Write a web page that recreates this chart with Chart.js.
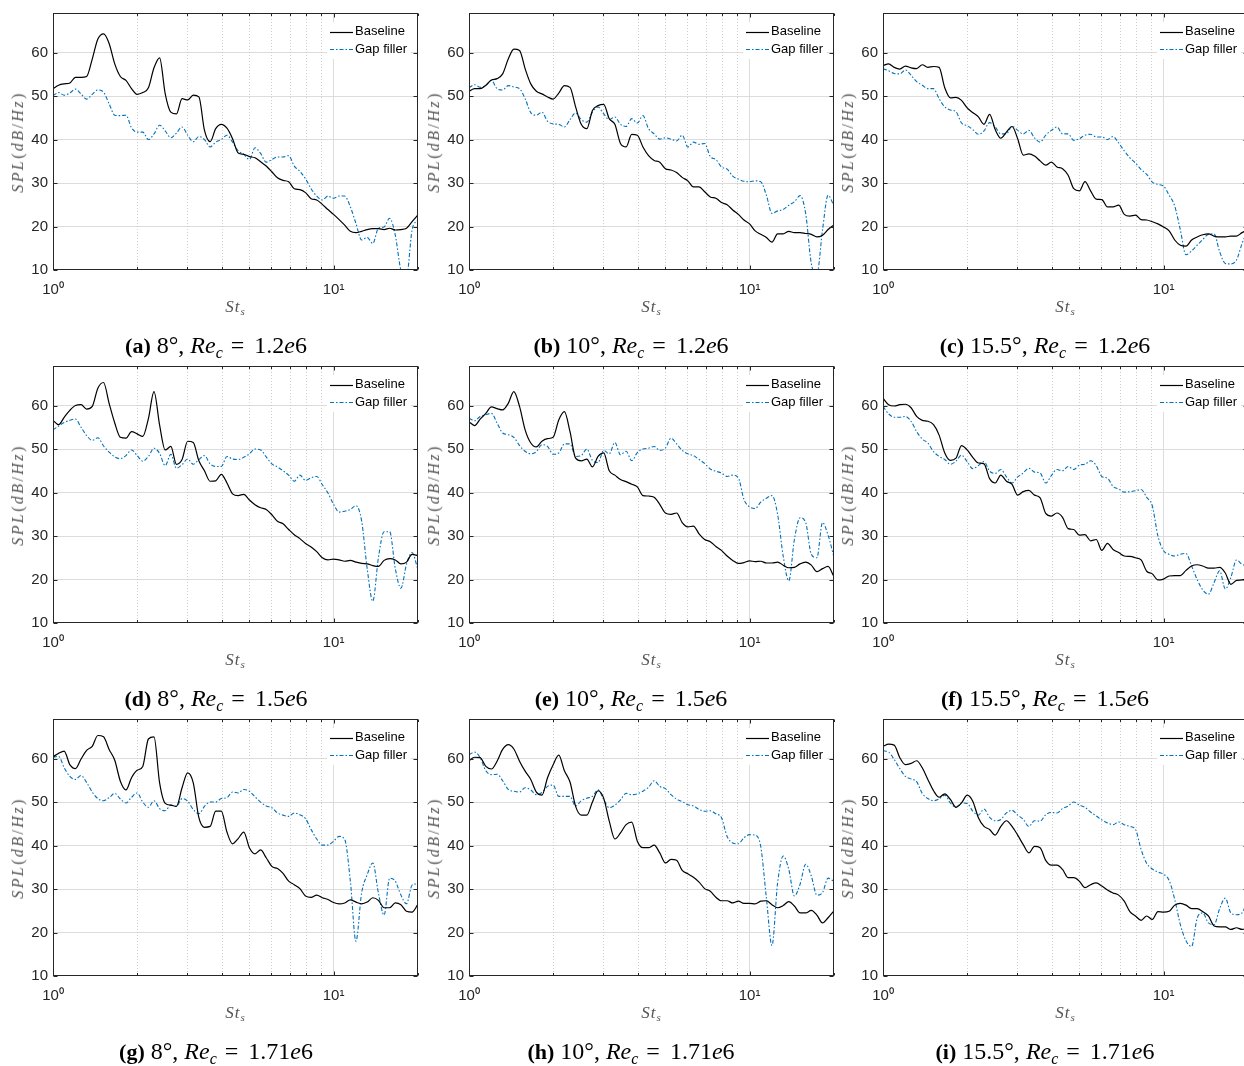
<!DOCTYPE html>
<html><head><meta charset="utf-8">
<script src="https://cdn.jsdelivr.net/npm/chart.js@4.4.1/dist/chart.umd.min.js"></script>
<style>
html,body{margin:0;padding:0;background:#fff;overflow:hidden;width:1244px;height:1066px;}
#wrap{position:relative;width:1244px;height:1066px;overflow:hidden;background:#fff;}
canvas{position:absolute;}
.ylab{position:absolute;font-family:"Liberation Serif","DejaVu Serif",serif;font-size:16px;color:#555;letter-spacing:2.4px;white-space:nowrap;transform:translate(-50%,-50%) rotate(-90deg);}
.ylab i{font-style:italic;}
.xlab{position:absolute;font-family:"Liberation Serif","DejaVu Serif",serif;font-size:17px;color:#555;white-space:nowrap;transform:translate(-50%,-50%);font-style:italic;letter-spacing:1px;}
.xlab sub{font-size:11px;vertical-align:-3px;}
.cap{position:absolute;font-family:"Liberation Serif","Times New Roman",serif;font-size:24px;color:#000;white-space:nowrap;transform:translate(-50%,-50%);}
.cap b{font-size:22px;}
.cap sub{font-size:16px;vertical-align:-5px;font-style:italic;}
.cap .eq{margin:0 10px 0 8px;}
</style>
</head><body><div id="wrap"></div>
<script>
// Strouhal number grid (shared by all panels)
const st = [1.000,1.047,1.096,1.148,1.202,1.259,1.318,1.380,1.445,1.514,1.585,1.660,1.738,1.820,1.905,1.995,2.089,2.188,2.291,2.399,2.512,2.630,2.754,2.884,3.020,3.162,3.311,3.467,3.631,3.802,3.981,4.169,4.365,4.571,4.786,5.012,5.248,5.495,5.754,6.026,6.310,6.607,6.918,7.244,7.586,7.943,8.318,8.710,9.120,9.550,10.00,10.47,10.96,11.48,12.02,12.59,13.18,13.80,14.45,15.14,15.85,16.60,17.38,18.20,19.05,19.95];

const xTickVals = [1,2,3,4,5,6,7,8,9,10,20];
const yTickVals = [10,20,30,40,50,60];
const seriesNames = ['Baseline','Gap filler'];

// (a) 8 deg, Re 1.2e6
const baseA = [51.7,52.5,52.8,53.0,54.3,54.3,54.5,58.5,63.1,64.3,62.1,57.4,54.5,53.6,51.7,50.4,50.8,51.9,56.5,58.8,50.5,46.3,45.9,49.4,49.1,50.2,49.8,42.1,39.5,42.5,43.5,42.6,40.2,36.9,36.6,36.1,35.8,34.9,33.9,32.6,31.2,30.6,30.3,28.7,28.5,27.8,26.4,26.1,25.1,23.9,22.8,21.6,20.3,18.9,18.6,18.9,19.3,19.5,19.5,19.3,19.6,19.2,19.3,19.6,21.1,22.6];
const gapA  = [50.1,50.8,50.2,50.7,51.6,50.5,49.3,50.4,51.4,50.9,48.2,45.6,45.5,45.6,42.7,41.7,41.7,40.0,41.3,43.3,42.0,40.4,41.5,42.9,41.0,39.5,40.7,40.0,38.3,39.4,40.0,41.0,39.4,37.4,36.6,35.4,38.1,36.8,34.8,35.4,36.0,36.0,36.3,33.9,32.7,31.0,28.7,27.0,26.1,27.0,26.5,27.0,27.0,24.5,20.7,16.9,17.5,16.1,19.6,19.9,21.9,18.0,10.0,8.5,19.2,21.5];
// (b) 10 deg, Re 1.2e6
const baseB = [51.1,51.7,51.7,52.5,53.7,54.0,55.1,58.5,60.8,60.5,56.3,52.8,51.1,50.5,49.8,49.3,50.7,52.4,52.0,47.5,43.5,42.5,46.7,47.8,48.1,44.8,43.5,39.1,38.3,41.2,41.0,38.3,36.3,35.2,34.8,33.3,33.0,32.4,31.3,30.5,29.1,29.1,28.0,26.8,26.5,25.5,25.0,23.8,22.8,21.5,20.6,19.0,18.2,17.5,16.4,18.3,18.3,18.9,18.6,18.6,18.4,18.2,17.6,18.0,19.3,20.3];
const gapB  = [51.9,52.6,52.0,52.4,53.6,51.7,51.4,52.4,52.1,51.7,49.4,46.2,45.6,46.3,44.2,43.6,43.5,42.9,44.6,46.1,44.6,44.0,46.3,47.5,45.9,44.6,45.2,43.5,43.0,44.8,43.8,45.5,42.5,41.3,40.1,40.4,40.1,39.7,41.0,38.3,39.4,38.9,39.1,36.1,35.4,33.7,33.2,31.6,30.9,30.4,30.3,30.5,30.3,27.2,23.0,23.6,23.9,24.9,25.7,27.1,23.0,11.5,9.0,19.2,27.2,24.9];
// (c) 15.5 deg, Re 1.2e6
const baseC = [57.0,57.4,56.6,56.2,56.9,56.5,56.3,57.2,56.6,56.8,56.6,51.9,49.6,49.7,49.0,47.3,46.2,45.2,43.5,45.8,42.3,40.3,41.7,43.0,40.2,36.4,36.7,36.2,35.1,34.1,34.8,33.7,33.3,31.8,28.7,28.2,30.3,28.2,26.3,26.2,24.5,24.5,24.9,22.8,22.4,22.6,21.6,21.5,21.1,20.6,19.9,19.0,16.9,15.7,15.5,16.9,17.6,18.1,18.3,17.8,17.6,17.6,17.8,17.8,18.6,19.2];
const gapC  = [56.3,55.8,55.2,55.1,56.0,54.8,53.3,52.5,51.7,51.7,49.4,47.5,46.8,46.4,43.8,43.2,42.3,41.2,42.0,43.9,42.9,41.3,41.3,43.1,42.1,41.3,42.1,40.4,39.4,41.0,42.1,42.9,41.3,41.3,39.8,40.2,41.0,41.2,40.6,40.6,40.0,40.7,39.2,37.4,35.8,34.6,33.1,32.0,30.2,29.7,29.3,27.2,24.7,19.2,13.5,14.4,15.7,17.0,18.2,18.3,14.2,11.5,11.4,12.3,16.1,19.2];
// (d) 8 deg, Re 1.5e6
const baseD = [56.6,55.6,57.3,58.9,60.0,60.2,59.2,59.8,64.0,65.3,60.5,56.0,52.7,52.5,54.0,53.5,52.9,57.0,63.2,55.5,49.8,50.6,46.5,47.6,51.8,51.5,47.3,45.0,42.6,42.7,44.2,42.2,39.7,39.3,39.6,38.3,37.2,36.5,36.1,34.9,33.4,32.8,31.5,30.3,29.4,28.3,27.5,26.4,25.0,24.5,24.7,24.5,24.2,24.4,24.0,23.7,23.6,23.2,23.0,24.4,24.8,24.5,23.6,24.0,25.8,25.5];
const gapD  = [54.4,55.3,56.1,56.6,56.9,55.0,53.1,52.0,52.6,50.7,49.3,48.2,47.8,48.5,49.8,48.5,47.2,48.3,50.2,49.0,46.2,48.8,45.6,46.4,47.7,46.5,47.6,48.5,46.6,46.0,46.0,48.3,47.7,47.6,48.1,48.9,50.0,49.8,48.2,46.6,45.9,45.0,44.0,42.6,44.0,42.8,43.4,43.7,41.8,39.9,37.3,35.5,35.7,36.1,37.0,33.5,22.5,15.0,25.0,31.0,31.0,22.5,18.0,23.5,26.2,22.5];
// (e) 10 deg, Re 1.5e6
const baseE = [56.3,55.4,56.9,58.2,59.7,59.3,59.0,60.5,63.2,59.8,54.4,51.4,50.5,51.8,52.4,52.7,56.7,58.6,54.0,47.9,47.3,47.7,45.9,48.3,49.1,45.0,44.0,43.0,42.5,41.9,41.3,39.3,39.2,38.9,37.3,35.3,35.0,35.3,33.1,32.1,32.3,30.5,29.2,28.7,27.6,26.7,25.4,24.4,23.7,23.9,24.3,24.1,24.2,23.8,23.8,24.0,23.3,22.7,22.8,23.6,24.0,23.3,21.8,22.5,23.0,20.8];
const gapE  = [57.1,56.5,57.5,57.9,58.2,56.0,53.7,53.3,52.7,50.8,49.5,48.9,49.4,51.0,50.6,48.8,49.1,51.2,51.2,48.3,48.5,50.0,47.4,46.9,49.7,48.9,51.5,48.7,49.5,47.3,49.2,50.0,50.2,50.6,49.7,50.2,52.5,51.2,49.7,48.9,48.5,47.6,46.7,45.4,44.9,44.5,43.7,44.0,43.4,38.4,36.7,36.3,37.8,38.7,39.3,35.0,25.4,19.7,29.2,34.2,33.1,25.8,25.0,33.1,30.2,25.4];
// (f) 15.5 deg, Re 1.5e6
const baseF = [61.7,60.2,59.9,60.2,60.3,59.5,57.5,56.6,56.4,55.6,53.2,49.1,47.4,47.9,50.8,49.8,48.1,46.8,46.6,43.2,42.2,44.0,42.6,41.9,39.4,40.2,40.5,39.4,38.8,35.2,34.6,35.3,34.3,31.7,31.5,30.2,30.3,28.9,29.2,26.7,28.3,26.9,26.2,25.4,25.3,25.0,24.5,21.9,21.3,19.9,20.1,20.8,20.9,20.9,22.1,23.1,23.4,23.1,22.6,22.6,22.8,21.5,18.9,19.8,19.9,20.4];
const gapF  = [59.8,58.1,57.3,57.3,57.5,56.4,54.0,52.3,51.4,49.4,48.3,47.6,46.5,47.2,48.6,47.1,45.5,46.2,47.1,44.9,44.4,45.3,43.6,42.2,43.6,44.5,45.6,44.7,44.5,42.2,43.9,45.3,45.0,46.0,45.3,46.3,46.5,47.3,46.2,43.7,43.3,41.4,40.8,40.1,40.2,40.4,40.7,38.9,36.9,30.0,26.6,25.8,25.4,25.8,26.0,23.1,20.0,17.6,16.6,19.3,22.0,17.8,20.5,24.5,23.5,23.1];
// (g) 8 deg, Re 1.71e6
const baseG = [60.4,61.2,61.7,58.6,57.7,59.9,61.9,62.8,65.3,65.0,62.1,59.6,54.8,52.8,55.6,57.3,58.2,64.5,65.0,54.4,49.7,49.3,49.0,53.3,56.7,54.4,46.4,44.2,44.4,47.9,47.9,43.1,40.4,41.6,43.1,39.5,38.1,39.0,37.2,35.2,34.7,33.6,31.8,31.0,30.1,28.4,28.1,28.6,28.0,27.6,26.9,26.6,26.8,27.5,27.0,26.6,27.0,28.0,27.4,25.7,25.7,26.8,26.4,24.9,24.7,26.4];
const gapG  = [60.3,60.5,57.9,55.9,55.2,56.1,54.5,52.3,50.8,50.3,51.0,52.0,50.7,49.8,51.1,52.1,50.0,48.8,50.3,48.5,48.0,49.3,49.0,50.8,50.2,48.3,47.3,49.0,50.0,50.0,50.8,51.0,52.3,52.1,52.9,52.5,51.2,50.0,49.1,48.7,47.5,47.0,46.7,47.5,47.1,46.2,43.7,41.5,40.1,40.1,41.0,42.1,41.4,31.8,18.0,29.1,33.3,36.0,29.1,24.0,32.5,31.8,28.6,26.6,30.9,31.2];
// (h) 10 deg, Re 1.71e6
const baseH = [59.5,60.3,60.2,58.2,57.6,59.4,62.1,63.2,62.2,59.4,57.1,55.2,52.3,51.6,55.6,58.6,60.8,57.2,54.6,49.0,47.0,47.0,50.0,52.6,50.9,45.6,41.5,42.9,44.8,45.4,41.0,39.5,39.5,40.1,38.3,36.0,36.8,36.6,34.3,33.5,32.7,31.6,30.1,29.5,28.1,27.3,27.3,26.8,27.2,26.7,26.7,26.6,27.2,27.3,26.4,25.7,26.2,27.1,26.1,24.5,24.5,25.1,24.0,22.2,23.4,24.9];
const gapH  = [60.9,61.5,60.2,57.2,56.3,56.4,54.9,52.9,52.5,52.3,53.3,52.8,51.7,52.2,53.6,53.9,51.3,51.3,51.3,49.1,50.3,50.9,51.3,52.8,50.6,48.7,49.3,50.5,52.0,51.7,51.9,52.5,53.4,54.9,53.6,53.1,51.7,50.7,50.1,49.4,49.1,48.3,47.9,48.0,47.3,46.4,42.1,40.6,40.4,41.8,42.5,42.4,39.8,28.0,17.0,31.4,37.6,34.5,28.4,31.1,35.7,33.0,28.6,29.2,32.5,31.8];
// (i) 15.5 deg, Re 1.71e6
const baseI = [62.8,63.3,63.1,60.2,58.6,58.9,59.5,57.9,55.2,52.6,51.1,51.9,50.6,48.8,49.8,51.6,50.2,46.4,44.4,43.7,42.4,44.4,45.7,44.4,42.4,40.2,38.3,39.8,39.5,36.6,35.5,35.5,34.5,32.6,32.6,31.8,30.3,31.0,31.4,30.7,29.8,29.1,28.6,27.2,24.8,23.8,22.8,23.8,23.0,24.8,24.7,24.9,26.3,26.7,26.3,25.5,25.5,24.8,23.8,21.5,21.3,21.3,20.7,21.1,20.7,21.1];
const gapI  = [61.8,61.5,59.8,57.7,55.9,55.3,54.7,52.0,50.8,50.3,50.7,51.6,49.8,48.8,49.8,49.7,47.9,47.0,48.4,46.5,45.7,46.0,47.5,48.1,47.0,46.0,44.4,45.7,45.6,47.1,47.6,47.5,48.5,49.1,50.0,49.3,48.8,47.7,46.8,45.9,45.2,44.8,45.4,44.8,44.4,43.7,39.1,35.9,34.6,33.9,33.4,32.0,27.6,21.8,18.1,16.8,23.3,24.5,22.2,21.8,25.5,27.9,24.5,24.1,24.5,27.9];

const panels = [
  {tag:'a', ang:'8',    re:'1.2',  base:baseA, gap:gapA},
  {tag:'b', ang:'10',   re:'1.2',  base:baseB, gap:gapB},
  {tag:'c', ang:'15.5', re:'1.2',  base:baseC, gap:gapC},
  {tag:'d', ang:'8',    re:'1.5',  base:baseD, gap:gapD},
  {tag:'e', ang:'10',   re:'1.5',  base:baseE, gap:gapE},
  {tag:'f', ang:'15.5', re:'1.5',  base:baseF, gap:gapF},
  {tag:'g', ang:'8',    re:'1.71', base:baseG, gap:gapG},
  {tag:'h', ang:'10',   re:'1.71', base:baseH, gap:gapH},
  {tag:'i', ang:'15.5', re:'1.71', base:baseI, gap:gapI}
];

// layout
const colLeft = [53, 469, 883];
const rowTop  = [13, 366, 719];
const colCap  = [216, 631, 1045];
const PW = 365, PH = 257;
const YW = 50, XH = 32, PT = 6, PR = 10;
const FONT = '"Liberation Sans", Arial, Helvetica, sans-serif';
const AXC = '#262626';

const decor = {
  id:'decor',
  beforeDatasetsDraw(chart){
    const {ctx, chartArea:a, scales:{x}} = chart;
    ctx.save();
    ctx.strokeStyle = '#cfcfcf'; ctx.lineWidth = 1; ctx.setLineDash([1,2]);
    xTickVals.forEach(v=>{
      if (v===1 || v===10) return;
      const px = Math.round(x.getPixelForValue(v)) + 0.5;
      if (px >= a.right - 1) return;
      ctx.beginPath(); ctx.moveTo(px, a.top); ctx.lineTo(px, a.bottom); ctx.stroke();
    });
    ctx.restore();
  },
  afterDatasetsDraw(chart){
    const {ctx, chartArea:a, scales:{x,y}} = chart;
    ctx.save();
    // legend (white background, no border)
    ctx.fillStyle = '#fff';
    ctx.fillRect(a.right-91, a.top+9, 84, 37);
    ctx.font = '13px ' + FONT; ctx.textBaseline = 'middle'; ctx.textAlign = 'left';
    chart.data.datasets.forEach((ds,k)=>{
      const yy = a.top + 18.5 + k*17.5;
      ctx.strokeStyle = ds.borderColor; ctx.lineWidth = ds.borderWidth;
      ctx.setLineDash(ds.borderDash || []);
      ctx.beginPath(); ctx.moveTo(a.right-88, Math.round(yy)+0.5); ctx.lineTo(a.right-65, Math.round(yy)+0.5); ctx.stroke();
      ctx.setLineDash([]);
      ctx.fillStyle = '#000';
      ctx.fillText(ds.label, a.right-63, yy);
    });
    // box
    ctx.strokeStyle = AXC; ctx.lineWidth = 1; ctx.setLineDash([]);
    const L = Math.round(a.left)+0.5, R = Math.round(a.right)-0.5, T = Math.round(a.top)+0.5, B = Math.round(a.bottom)-0.5;
    ctx.strokeRect(L, T, R-L, B-T);
    // inward ticks
    ctx.beginPath();
    xTickVals.forEach(v=>{
      const px = Math.round(x.getPixelForValue(v))+0.5;
      const len = (v===1||v===10) ? 4 : 2.5;
      ctx.moveTo(px, B); ctx.lineTo(px, B-len);
      ctx.moveTo(px, T); ctx.lineTo(px, T+len);
    });
    yTickVals.forEach(v=>{
      const py = Math.round(y.getPixelForValue(v))+0.5;
      ctx.moveTo(L, py); ctx.lineTo(L+4, py);
      ctx.moveTo(R, py); ctx.lineTo(R-4, py);
    });
    ctx.stroke();
    ctx.restore();
  }
};

const wrap = document.getElementById('wrap');
panels.forEach((p, idx)=>{
  const c = idx % 3, r = Math.floor(idx/3);
  const L = colLeft[c], T = rowTop[r];
  const cv = document.createElement('canvas');
  const W = YW + PW + PR, H = PT + PH + XH;
  cv.width = W; cv.height = H;
  cv.style.left = (L - YW) + 'px'; cv.style.top = (T - PT) + 'px';
  cv.style.width = W + 'px'; cv.style.height = H + 'px';
  wrap.appendChild(cv);

  new Chart(cv.getContext('2d'), {
    type:'line',
    data:{
      datasets:[
        {label:seriesNames[0], data: st.map((s,i)=>({x:s, y:p.base[i]})), borderColor:'#000000', borderWidth:1.2, pointRadius:0, fill:false, cubicInterpolationMode:'monotone'},
        {label:seriesNames[1], data: st.map((s,i)=>({x:s, y:p.gap[i]})), borderColor:'#0072BD', borderWidth:1.1, borderDash:[4,2,1.5,2], pointRadius:0, fill:false, cubicInterpolationMode:'monotone'}
      ]
    },
    options:{
      responsive:false, animation:false, devicePixelRatio:1,
      layout:{padding:{left:0, top:PT, right:PR, bottom:0}},
      plugins:{legend:{display:false}, tooltip:{enabled:false}},
      scales:{
        x:{type:'logarithmic', min:1, max:20,
           afterBuildTicks(s){ s.ticks = xTickVals.map(v=>({value:v})); },
           afterFit(s){ s.height = XH; s.paddingLeft = 0; s.paddingRight = 0; },
           ticks:{autoSkip:false, maxRotation:0, minRotation:0, padding:11, color:AXC,
                  font:{family:FONT, size:15},
                  callback(v){ return v===1 ? '10\u2070' : (v===10 ? '10\u00B9' : ''); }},
           grid:{drawTicks:false, lineWidth:1, color(ctx){ const v = ctx.tick && ctx.tick.value; return v===10 ? '#dcdcdc' : 'rgba(0,0,0,0)'; }},
           border:{display:false}
        },
        y:{type:'linear', min:10, max:69.1,
           afterBuildTicks(s){ s.ticks = yTickVals.map(v=>({value:v})); },
           afterFit(s){ s.width = YW; s.paddingTop = 0; s.paddingBottom = 0; },
           ticks:{padding:5, color:AXC, font:{family:FONT, size:15}},
           grid:{drawTicks:false, lineWidth:1, color(ctx){ const v = ctx.tick && ctx.tick.value; return v>10 ? '#dcdcdc' : 'rgba(0,0,0,0)'; }},
           border:{display:false}
        }
      }
    },
    plugins:[decor]
  });

  // axis titles and caption
  const yl = document.createElement('div');
  yl.className = 'ylab';
  yl.innerHTML = '<i>SPL</i>(<i>dB</i>/<i>Hz</i>)';
  yl.style.left = (L - 35) + 'px'; yl.style.top = (T + PH/2) + 'px';
  wrap.appendChild(yl);

  const xl = document.createElement('div');
  xl.className = 'xlab';
  xl.innerHTML = 'St<sub>s</sub>';
  xl.style.left = (L + PW/2) + 'px'; xl.style.top = (T + PH + 37) + 'px';
  wrap.appendChild(xl);

  const cap = document.createElement('div');
  cap.className = 'cap';
  cap.innerHTML = '<b>(' + p.tag + ')</b> ' + p.ang + '°, <i>Re</i><sub>c</sub><span class="eq">=</span>' + p.re + '<i>e</i>6';
  cap.style.left = colCap[c] + 'px'; cap.style.top = (T + PH + 77) + 'px';
  wrap.appendChild(cap);
});
</script>
</body></html>
